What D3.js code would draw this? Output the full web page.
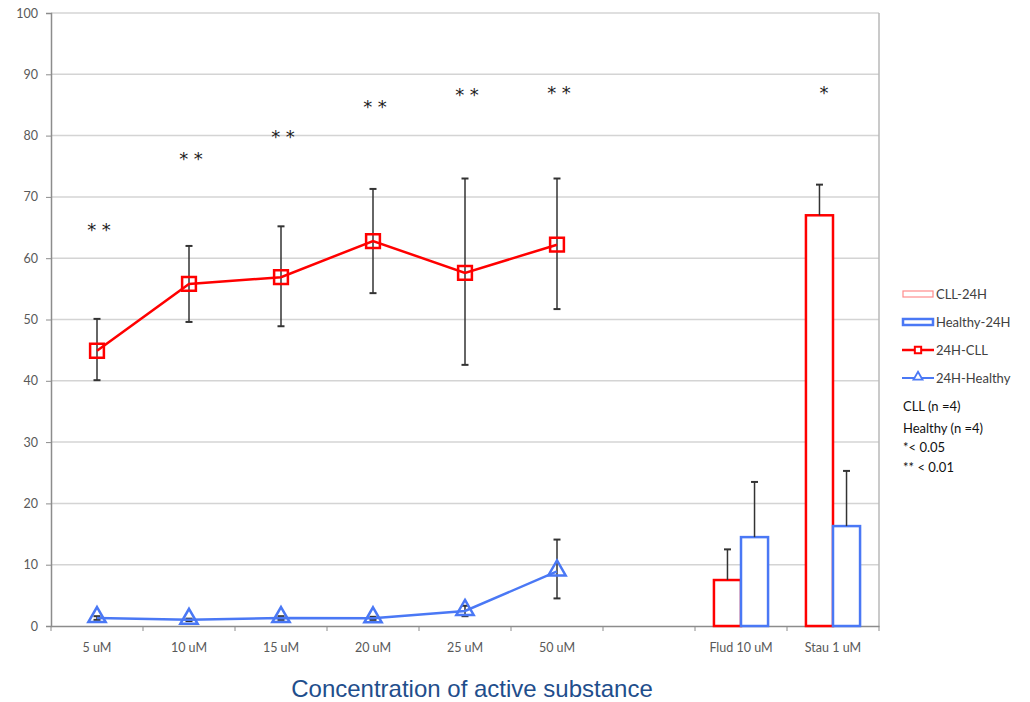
<!DOCTYPE html>
<html>
<head>
<meta charset="utf-8">
<script src="https://cdn.jsdelivr.net/npm/d3@7"></script>
<style>
body{margin:0;background:#fff;}
text{font-family:Lato,"Liberation Sans",sans-serif;}
</style>
</head>
<body>
<svg id="chart" width="1030" height="702"></svg>
<script>
var width = 1030;
var height = 702;

// categories on the x axis (the blank one is the gap before the controls)
var categories = ["5 uM","10 uM","15 uM","20 uM","25 uM","50 uM"," ","Flud 10 uM","Stau 1 uM"];
var lineCats = ["5 uM","10 uM","15 uM","20 uM","25 uM","50 uM"];
var barCats = ["Flud 10 uM","Stau 1 uM"];
var yTicks = [0,10,20,30,40,50,60,70,80,90,100];

// 24H-CLL line
var cllLine   = [44.9, 55.8, 56.9, 62.8, 57.6, 62.2];
var cllLineLo = [40.1, 49.6, 48.9, 54.3, 42.6, 51.7];
var cllLineHi = [50.1, 62.0, 65.2, 71.3, 73.0, 73.0];

// 24H-Healthy line
var healthyLine   = [1.3, 1.0, 1.3, 1.25, 2.45, 8.9];
var healthyLineLo = [1.0, 0.8, 1.0, 1.0, 1.6, 4.5];
var healthyLineHi = [1.6, 1.2, 1.6, 1.5, 3.3, 14.1];

// bars (controls)
var cllBar = [7.5, 67.0];
var cllBarHi = [12.5, 72.0];
var healthyBar = [14.5, 16.3];
var healthyBarHi = [23.5, 25.3];

// significance marks
var starCats = ["5 uM","10 uM","15 uM","20 uM","25 uM","50 uM","Stau 1 uM"];
var starText = ["* *","* *","* *","* *","* *","* *","*"];
var starY = [65.3, 76.8, 80.4, 85.3, 87.3, 87.6, 87.6];

var legendNotes = ["CLL (n =4)","Healthy (n =4)","*< 0.05","** < 0.01"];

var red = "#ff0000";
var blue = "#4a78f5";

var svg = d3.select('#chart');

var x = d3.scaleBand()
    .domain(categories)
    .range([51,879]);

var y = d3.scaleLinear()
    .domain([0,100])
    .range([626,13]);

var sub = d3.scaleBand()
    .domain(["cll","healthy"])
    .range([0,x.bandwidth()])
    .paddingOuter(0.7);

var cx = d => x(d) + x.bandwidth()/2;

// grid
svg.append('g')
    .selectAll('line')
    .data(yTicks.filter(d=>d>0))
    .enter()
    .append('line')
    .attr("x1",51).attr("x2",879)
    .attr("y1",d=>y(d)).attr("y2",d=>y(d))
    .attr("stroke","#d4d4d4")
    .attr("stroke-width",1.5);

// right border
svg.append('line')
    .attr("x1",879).attr("x2",879)
    .attr("y1",y(100)).attr("y2",y(0))
    .attr("stroke","#b8b8b8")
    .attr("stroke-width",1.5);

// axes
var yAxis = d3.axisLeft(y).tickValues(yTicks).tickSize(5).tickPadding(8);
var gy = svg.append('g')
    .attr("transform","translate(51,0)")
    .call(yAxis);
gy.select('.domain').attr("stroke","#8c8c8c").attr("stroke-width",1.5);
gy.selectAll('.tick line').attr("stroke","#8c8c8c");
gy.selectAll('.tick text').attr("fill","#595959").style("font-size","12.5px");

var xAxis = d3.axisBottom(x).tickSize(0).tickPadding(17);
var gx = svg.append('g')
    .attr("transform",`translate(0,${y(0)})`)
    .call(xAxis);
gx.select('.domain').attr("stroke","#8c8c8c").attr("stroke-width",1.5);
gx.selectAll('.tick text').attr("fill","#595959").style("font-size","12.5px");

// tick marks between categories
svg.append('g')
    .selectAll('line')
    .data(categories.concat(["end"]))
    .enter()
    .append('line')
    .attr("x1",(d,i)=>51 + i*x.step())
    .attr("x2",(d,i)=>51 + i*x.step())
    .attr("y1",y(0)).attr("y2",y(0)+5)
    .attr("stroke","#8c8c8c");

// bars
var bars = svg.append('g');
barCats.forEach((c,i)=>{
    bars.append('rect')
        .attr("x",x(c)+sub("cll"))
        .attr("y",y(cllBar[i]))
        .attr("width",sub.bandwidth())
        .attr("height",y(0)-y(cllBar[i]))
        .attr("fill","white")
        .attr("stroke",red)
        .attr("stroke-width",2.5);
    bars.append('rect')
        .attr("x",x(c)+sub("healthy"))
        .attr("y",y(healthyBar[i]))
        .attr("width",sub.bandwidth())
        .attr("height",y(0)-y(healthyBar[i]))
        .attr("fill","white")
        .attr("stroke",blue)
        .attr("stroke-width",2.5);
});

function errBar(g,xp,lo,hi,bottomCap){
    g.append('line')
        .attr("x1",xp).attr("x2",xp)
        .attr("y1",y(lo)).attr("y2",y(hi))
        .attr("stroke","#333").attr("stroke-width",1.5);
    g.append('line')
        .attr("x1",xp-3.5).attr("x2",xp+3.5)
        .attr("y1",y(hi)).attr("y2",y(hi))
        .attr("stroke","#333").attr("stroke-width",2);
    if(bottomCap){
        g.append('line')
            .attr("x1",xp-3.5).attr("x2",xp+3.5)
            .attr("y1",y(lo)).attr("y2",y(lo))
            .attr("stroke","#333").attr("stroke-width",2);
    }
}

var errs = svg.append('g');
barCats.forEach((c,i)=>{
    errBar(errs,x(c)+sub("cll")+sub.bandwidth()/2,cllBar[i],cllBarHi[i],false);
    errBar(errs,x(c)+sub("healthy")+sub.bandwidth()/2,healthyBar[i],healthyBarHi[i],false);
});
lineCats.forEach((c,i)=>{
    errBar(errs,cx(c),cllLineLo[i],cllLineHi[i],true);
    errBar(errs,cx(c),healthyLineLo[i],healthyLineHi[i],true);
});

// lines
var line = d3.line()
    .x((d,i)=>cx(lineCats[i]))
    .y(d=>y(d));

svg.append('path')
    .datum(cllLine)
    .attr("d",line)
    .attr("fill","none")
    .attr("stroke",red)
    .attr("stroke-width",2.5);

svg.append('path')
    .datum(healthyLine)
    .attr("d",line)
    .attr("fill","none")
    .attr("stroke",blue)
    .attr("stroke-width",2.5);

var square = d3.symbol().type(d3.symbolSquare).size(190);
var triangle = d3.symbol().type(d3.symbolTriangle).size(130);

svg.append('g')
    .selectAll('path')
    .data(cllLine)
    .enter()
    .append('path')
    .attr("d",square)
    .attr("transform",(d,i)=>`translate(${cx(lineCats[i])},${y(d)})`)
    .attr("fill","none")
    .attr("stroke",red)
    .attr("stroke-width",2.5);

svg.append('g')
    .selectAll('path')
    .data(healthyLine)
    .enter()
    .append('path')
    .attr("d",triangle)
    .attr("transform",(d,i)=>`translate(${cx(lineCats[i])},${y(d)-1})`)
    .attr("fill","none")
    .attr("stroke",blue)
    .attr("stroke-width",2.5);

// stars
svg.append('g')
    .selectAll('text')
    .data(starCats)
    .enter()
    .append('text')
    .attr("x",(d,i)=> i===starCats.length-1 ? cx(d)-9 : cx(d)+2)
    .attr("y",(d,i)=>y(starY[i]))
    .attr("dy","0.55em")
    .attr("text-anchor","middle")
    .style("font-family","'DejaVu Sans'")
    .style("font-size","18px")
    .attr("fill","#222")
    .text((d,i)=>starText[i]);

// legend
var lg = svg.append('g').attr("transform","translate(902,0)");
var legendItems = [
    {name:"CLL-24H", y:294},
    {name:"Healthy-24H", y:322},
    {name:"24H-CLL", y:350},
    {name:"24H-Healthy", y:378}
];
lg.append('rect').attr("x",1).attr("y",291).attr("width",30).attr("height",6)
    .attr("fill","white").attr("stroke","#ff8c8c").attr("stroke-width",1.2);
lg.append('rect').attr("x",1).attr("y",319).attr("width",30).attr("height",6)
    .attr("fill","white").attr("stroke",blue).attr("stroke-width",2.5);
lg.append('line').attr("x1",0).attr("x2",32).attr("y1",350).attr("y2",350)
    .attr("stroke",red).attr("stroke-width",2.5);
lg.append('path').attr("d",d3.symbol().type(d3.symbolSquare).size(40))
    .attr("transform","translate(16,350)").attr("fill","white")
    .attr("stroke",red).attr("stroke-width",2);
lg.append('line').attr("x1",0).attr("x2",32).attr("y1",378).attr("y2",378)
    .attr("stroke",blue).attr("stroke-width",2);
lg.append('path').attr("d",d3.symbol().type(d3.symbolTriangle).size(35))
    .attr("transform","translate(16,377)").attr("fill","white")
    .attr("stroke",blue).attr("stroke-width",1.8);
lg.selectAll('.lname')
    .data(legendItems)
    .enter()
    .append('text')
    .classed('lname',true)
    .attr("x",34)
    .attr("y",d=>d.y)
    .attr("dy","0.35em")
    .style("font-size","13px")
    .attr("fill","#404040")
    .text(d=>d.name);
lg.selectAll('.note')
    .data(legendNotes)
    .enter()
    .append('text')
    .classed('note',true)
    .attr("x",1)
    .attr("y",(d,i)=>[406,428,447,467][i])
    .attr("dy","0.35em")
    .style("font-size","13px")
    .attr("fill","#111")
    .text(d=>d);

// axis title
svg.append('text')
    .attr("x",472)
    .attr("y",697)
    .attr("text-anchor","middle")
    .style("font-family","'Liberation Sans',Arial,sans-serif")
    .style("font-size","24px")
    .attr("fill","#1f4e8c")
    .text("Concentration of active substance");
</script>
</body>
</html>
